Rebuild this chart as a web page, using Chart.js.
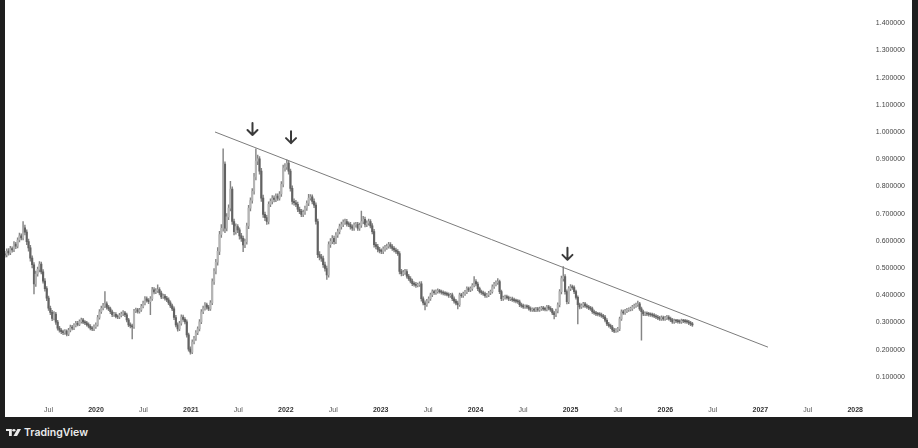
<!DOCTYPE html>
<html>
<head>
<meta charset="utf-8">
<script src="https://cdn.jsdelivr.net/npm/chart.js@4.4.1/dist/chart.umd.min.js"></script>
<style>
  html, body { margin:0; padding:0; width:918px; height:448px; overflow:hidden; background:#1e1e1e; }
  #panel { position:absolute; left:5px; top:0; width:907px; height:417px; background:#fff; }
  #panel canvas { display:block; }
  #brand { position:absolute; left:6px; top:425px; height:14px; display:flex; align-items:center; gap:3px;
           color:#ececec; font-family:"Inter","Noto Sans",sans-serif; font-size:10.5px; font-weight:600; }
</style>
</head>
<body>
<div id="panel"><canvas id="chart" width="907" height="417"></canvas></div>
<div id="brand">
  <svg width="15" height="7" viewBox="0 0 16 10" preserveAspectRatio="none"><path d="M0 0h6.2v10H3.2V3H0z" fill="#ececec"/><circle cx="8.4" cy="1.7" r="1.7" fill="#ececec"/><path d="M12.2 0h3.8l-4.2 10H7.9z" fill="#ececec"/></svg>
  <span>TradingView</span>
</div>
<script>
// --- weekly candles, first one mid-Jan 2019 ---
const startYear = 2019.04;
const weekStep = 7 / 365.25;
const firstOpen = 0.552;

const closes = [
  0.548,0.562,0.555,0.571,0.566,0.588,0.580,0.603,0.618,0.611,
  0.648,0.632,0.597,0.574,0.536,0.512,0.441,0.478,0.495,0.514,
  0.486,0.452,0.424,0.389,0.352,0.337,0.315,0.331,0.301,0.279,
  0.271,0.266,0.262,0.268,0.257,0.271,0.283,0.279,0.289,0.297,
  0.293,0.303,0.309,0.301,0.298,0.292,0.286,0.279,0.276,0.284,
  0.291,0.318,0.339,0.352,0.361,0.368,0.356,0.350,0.339,0.328,
  0.330,0.322,0.320,0.326,0.331,0.335,0.328,0.309,0.291,0.287,
  0.283,0.342,0.346,0.340,0.346,0.359,0.371,0.387,0.381,0.376,
  0.387,0.420,0.412,0.416,0.421,0.408,0.394,0.397,0.389,0.383,
  0.372,0.361,0.350,0.318,0.291,0.276,0.297,0.320,0.311,0.302,
  0.254,0.202,0.191,0.228,0.241,0.262,0.276,0.302,0.339,0.352,
  0.365,0.356,0.350,0.372,0.450,0.488,0.521,0.561,0.623,0.646,
  0.882,0.646,0.688,0.720,0.790,0.671,0.634,0.652,0.640,0.618,
  0.609,0.585,0.597,0.655,0.720,0.748,0.782,0.835,0.893,0.901,
  0.856,0.757,0.697,0.685,0.671,0.734,0.745,0.757,0.752,0.764,
  0.757,0.772,0.808,0.867,0.872,0.886,0.856,0.793,0.745,0.740,
  0.734,0.716,0.708,0.697,0.705,0.720,0.738,0.757,0.762,0.745,
  0.731,0.671,0.549,0.541,0.535,0.512,0.498,0.475,0.586,0.598,
  0.609,0.597,0.621,0.634,0.652,0.660,0.668,0.671,0.662,0.660,
  0.651,0.646,0.658,0.660,0.646,0.657,0.671,0.679,0.660,0.665,
  0.671,0.655,0.634,0.586,0.579,0.568,0.563,0.561,0.570,0.575,
  0.580,0.586,0.579,0.572,0.566,0.561,0.553,0.487,0.479,0.483,
  0.487,0.470,0.461,0.452,0.442,0.440,0.436,0.438,0.442,0.387,
  0.372,0.365,0.378,0.387,0.401,0.413,0.409,0.413,0.416,0.413,
  0.410,0.407,0.405,0.403,0.398,0.401,0.387,0.378,0.371,0.365,
  0.401,0.398,0.405,0.412,0.424,0.419,0.424,0.436,0.450,0.441,
  0.424,0.413,0.409,0.405,0.398,0.401,0.408,0.413,0.431,0.440,
  0.446,0.450,0.413,0.387,0.391,0.394,0.391,0.386,0.387,0.383,
  0.380,0.378,0.376,0.365,0.361,0.357,0.359,0.357,0.351,0.346,
  0.348,0.345,0.349,0.346,0.350,0.353,0.350,0.348,0.357,0.352,
  0.346,0.335,0.328,0.342,0.365,0.413,0.461,0.468,0.413,0.376,
  0.424,0.431,0.428,0.413,0.392,0.365,0.357,0.362,0.368,0.361,
  0.357,0.353,0.350,0.339,0.335,0.331,0.330,0.328,0.324,0.320,
  0.308,0.294,0.288,0.283,0.272,0.268,0.271,0.276,0.313,0.339,
  0.335,0.342,0.346,0.348,0.350,0.357,0.361,0.365,0.368,0.350,
  0.339,0.331,0.333,0.331,0.329,0.328,0.326,0.323,0.320,0.316,
  0.313,0.318,0.313,0.316,0.320,0.314,0.309,0.302,0.306,0.305,
  0.303,0.302,0.306,0.305,0.303,0.302,0.298,0.294,0.291
];

const highs = [
  0.561,0.570,0.571,0.580,0.578,0.597,0.594,0.611,0.628,0.626,
  0.671,0.658,0.640,0.606,0.583,0.545,0.520,0.489,0.503,0.524,
  0.522,0.494,0.461,0.432,0.397,0.360,0.344,0.340,0.337,0.308,
  0.286,0.277,0.272,0.274,0.273,0.278,0.290,0.289,0.296,0.304,
  0.304,0.309,0.316,0.315,0.307,0.304,0.298,0.292,0.285,0.291,
  0.298,0.326,0.347,0.360,0.370,0.413,0.376,0.363,0.356,0.345,
  0.337,0.336,0.328,0.333,0.338,0.343,0.341,0.334,0.315,0.298,
  0.294,0.348,0.353,0.352,0.352,0.366,0.378,0.395,0.394,0.388,
  0.395,0.429,0.428,0.424,0.438,0.428,0.415,0.404,0.403,0.396,
  0.390,0.379,0.367,0.357,0.326,0.298,0.304,0.328,0.327,0.318,
  0.309,0.261,0.210,0.236,0.249,0.270,0.284,0.310,0.347,0.360,
  0.373,0.371,0.363,0.380,0.460,0.498,0.532,0.575,0.635,0.660,
  0.938,0.890,0.700,0.732,0.819,0.798,0.680,0.662,0.660,0.648,
  0.627,0.617,0.606,0.665,0.730,0.758,0.792,0.848,0.938,0.915,
  0.910,0.866,0.768,0.706,0.694,0.743,0.754,0.766,0.765,0.773,
  0.773,0.781,0.818,0.878,0.884,0.898,0.894,0.864,0.802,0.754,
  0.749,0.742,0.724,0.716,0.713,0.728,0.747,0.771,0.770,0.769,
  0.754,0.740,0.680,0.560,0.550,0.544,0.522,0.507,0.596,0.608,
  0.619,0.617,0.630,0.643,0.661,0.669,0.677,0.680,0.679,0.670,
  0.668,0.659,0.666,0.668,0.668,0.665,0.709,0.690,0.687,0.673,
  0.680,0.678,0.663,0.642,0.594,0.587,0.576,0.570,0.578,0.583,
  0.588,0.594,0.593,0.586,0.579,0.573,0.568,0.560,0.495,0.491,
  0.495,0.494,0.477,0.468,0.459,0.449,0.447,0.445,0.449,0.450,
  0.394,0.379,0.385,0.394,0.408,0.420,0.419,0.420,0.423,0.422,
  0.419,0.416,0.413,0.411,0.409,0.407,0.408,0.394,0.385,0.378,
  0.408,0.407,0.411,0.418,0.431,0.430,0.431,0.443,0.468,0.457,
  0.448,0.430,0.419,0.415,0.411,0.407,0.414,0.419,0.438,0.447,
  0.453,0.461,0.456,0.419,0.397,0.400,0.400,0.397,0.393,0.393,
  0.389,0.386,0.384,0.382,0.371,0.367,0.365,0.365,0.363,0.357,
  0.354,0.354,0.355,0.355,0.356,0.359,0.359,0.356,0.363,0.363,
  0.358,0.352,0.341,0.349,0.372,0.421,0.470,0.505,0.476,0.420,
  0.432,0.439,0.437,0.434,0.419,0.398,0.371,0.368,0.374,0.374,
  0.367,0.363,0.359,0.356,0.345,0.341,0.337,0.336,0.334,0.330,
  0.326,0.314,0.300,0.294,0.289,0.278,0.277,0.282,0.320,0.346,
  0.345,0.348,0.352,0.354,0.356,0.363,0.367,0.371,0.378,0.374,
  0.356,0.345,0.339,0.339,0.337,0.335,0.334,0.332,0.329,0.326,
  0.322,0.324,0.323,0.322,0.326,0.325,0.320,0.315,0.312,0.311,
  0.311,0.309,0.312,0.311,0.311,0.309,0.308,0.304,0.300
];

const lows = [
  0.540,0.541,0.547,0.549,0.558,0.560,0.571,0.574,0.596,0.603,
  0.603,0.622,0.586,0.562,0.525,0.500,0.405,0.432,0.470,0.486,
  0.478,0.444,0.415,0.380,0.344,0.328,0.306,0.309,0.293,0.271,
  0.264,0.259,0.255,0.256,0.250,0.251,0.265,0.272,0.273,0.283,
  0.287,0.288,0.297,0.295,0.292,0.286,0.280,0.272,0.270,0.270,
  0.278,0.286,0.312,0.333,0.346,0.354,0.349,0.343,0.332,0.321,
  0.322,0.316,0.314,0.314,0.320,0.325,0.321,0.302,0.284,0.280,
  0.239,0.278,0.336,0.334,0.334,0.340,0.353,0.364,0.374,0.369,
  0.328,0.381,0.405,0.406,0.410,0.401,0.387,0.388,0.382,0.376,
  0.365,0.354,0.343,0.310,0.283,0.268,0.270,0.290,0.304,0.294,
  0.246,0.194,0.183,0.185,0.221,0.234,0.255,0.269,0.295,0.332,
  0.345,0.349,0.343,0.344,0.365,0.440,0.478,0.510,0.549,0.612,
  0.635,0.630,0.636,0.678,0.710,0.660,0.622,0.624,0.630,0.606,
  0.598,0.560,0.575,0.588,0.645,0.710,0.738,0.771,0.824,0.880,
  0.845,0.745,0.686,0.674,0.660,0.662,0.725,0.736,0.743,0.744,
  0.748,0.749,0.763,0.798,0.856,0.862,0.845,0.782,0.735,0.731,
  0.725,0.707,0.700,0.689,0.689,0.697,0.712,0.729,0.749,0.736,
  0.722,0.661,0.538,0.530,0.524,0.502,0.488,0.458,0.466,0.576,
  0.589,0.588,0.589,0.612,0.625,0.643,0.652,0.660,0.654,0.652,
  0.643,0.638,0.638,0.650,0.638,0.638,0.649,0.663,0.651,0.652,
  0.657,0.647,0.625,0.577,0.570,0.559,0.555,0.553,0.553,0.562,
  0.568,0.573,0.572,0.565,0.559,0.554,0.546,0.478,0.471,0.472,
  0.476,0.463,0.454,0.445,0.435,0.433,0.429,0.430,0.432,0.378,
  0.364,0.346,0.359,0.372,0.381,0.395,0.403,0.403,0.407,0.407,
  0.404,0.401,0.399,0.397,0.392,0.392,0.380,0.371,0.364,0.350,
  0.359,0.392,0.392,0.399,0.406,0.413,0.413,0.418,0.430,0.434,
  0.417,0.407,0.403,0.399,0.392,0.392,0.395,0.402,0.407,0.425,
  0.434,0.440,0.406,0.380,0.381,0.385,0.385,0.380,0.380,0.377,
  0.374,0.372,0.370,0.358,0.355,0.351,0.351,0.351,0.345,0.340,
  0.340,0.339,0.339,0.340,0.340,0.344,0.344,0.342,0.342,0.346,
  0.340,0.328,0.313,0.321,0.335,0.357,0.405,0.452,0.404,0.368,
  0.369,0.417,0.421,0.406,0.385,0.294,0.350,0.351,0.356,0.355,
  0.351,0.347,0.344,0.333,0.329,0.325,0.324,0.322,0.318,0.314,
  0.302,0.288,0.282,0.277,0.266,0.262,0.263,0.265,0.270,0.307,
  0.329,0.329,0.336,0.340,0.342,0.344,0.351,0.355,0.359,0.344,
  0.235,0.325,0.325,0.325,0.323,0.322,0.320,0.317,0.314,0.310,
  0.307,0.307,0.307,0.307,0.310,0.308,0.303,0.296,0.296,0.299,
  0.297,0.296,0.296,0.299,0.297,0.296,0.292,0.288,0.285
];

// trendline drawn across the three tops
const trendX = [2021.254, 2027.081];
const trendY = [1.000, 0.209];

// the three down arrows (x in years, y = price at the arrow tip)
const arrowX = [2021.649, 2022.055, 2024.968];
const arrowTip = [0.989, 0.959, 0.530];

const xTickPos = [2019.5,2020,2020.5,2021,2021.5,2022,2022.5,2023,2023.5,2024,2024.5,2025,2025.5,2026,2026.5,2027,2027.5,2028];
const xTickLabels = ['Jul','2020','Jul','2021','Jul','2022','Jul','2023','Jul','2024','Jul','2025','Jul','2026','Jul','2027','Jul','2028'];
const yTickVals = [0.1,0.2,0.3,0.4,0.5,0.6,0.7,0.8,0.9,1.0,1.1,1.2,1.3,1.4];

// --- build candle rows ---
const opens = [firstOpen, ...closes.slice(0, -1)];
const times = closes.map((c, i) => startYear + i * weekStep);
const wickData = times.map((t, i) => ({ x: t, y: [lows[i], highs[i]] }));
const bodyData = times.map((t, i) => ({ x: t, y: [opens[i], closes[i]] }));
const bodyColors = closes.map((c, i) => c >= opens[i] ? '#b4b4b4' : '#626262');

const arrowPlugin = {
  id: 'arrows',
  afterDatasetsDraw(chart) {
    const { ctx, scales: { x, y } } = chart;
    ctx.save();
    ctx.strokeStyle = '#3a3a3a';
    ctx.lineWidth = 2;
    ctx.lineCap = 'round';
    ctx.lineJoin = 'round';
    arrowX.forEach((ax, i) => {
      const px = x.getPixelForValue(ax);
      const py = y.getPixelForValue(arrowTip[i]);
      ctx.beginPath();
      ctx.moveTo(px, py - 12); ctx.lineTo(px, py);
      ctx.moveTo(px - 5, py - 5); ctx.lineTo(px, py); ctx.lineTo(px + 5, py - 5);
      ctx.stroke();
    });
    ctx.restore();
  }
};

const fontFam = '"Liberation Sans", Arial, sans-serif';

new Chart(document.getElementById('chart'), {
  type: 'bar',
  data: {
    datasets: [
      {
        type: 'line',
        data: trendX.map((t, i) => ({ x: t, y: trendY[i] })),
        borderColor: '#7c7c7c', borderWidth: 1, pointRadius: 0, pointHoverRadius: 0, fill: false
      },
      {
        data: bodyData, backgroundColor: bodyColors, borderWidth: 0,
        barThickness: 1.5, grouped: false, minBarLength: 1
      },
      {
        data: wickData, backgroundColor: '#858585', borderWidth: 0,
        barThickness: 0.8, grouped: false
      }
    ]
  },
  options: {
    responsive: false,
    animation: false,
    events: [],
    layout: { padding: { top: 0, left: 0, bottom: 0, right: 7 }, autoPadding: false },
    plugins: { legend: { display: false }, tooltip: { enabled: false } },
    scales: {
      x: {
        type: 'linear', offset: false,
        min: 2019.0411, max: 2028.0717,
        grid: { display: false, drawTicks: false },
        border: { display: false },
        afterFit: s => { s.height = 13; },
        afterBuildTicks: s => { s.ticks = xTickPos.map(v => ({ value: v })); },
        ticks: {
          autoSkip: false, maxRotation: 0, padding: 2,
          callback: (v, i) => xTickLabels[i],
          color: c => xTickLabels[c.index] === 'Jul' ? '#555' : '#333',
          font: c => ({ family: fontFam, size: 7, weight: xTickLabels[c.index] === 'Jul' ? 'normal' : 'bold' })
        }
      },
      y: {
        type: 'linear', position: 'right',
        min: 0, max: 1.4698,
        grid: { display: false, drawTicks: false },
        border: { display: false },
        afterFit: s => { s.width = 43; },
        afterBuildTicks: s => { s.ticks = yTickVals.map(v => ({ value: v })); },
        ticks: {
          padding: 0, crossAlign: 'far', color: '#444',
          font: { family: fontFam, size: 7 },
          callback: v => v.toFixed(6)
        }
      }
    }
  },
  plugins: [arrowPlugin]
});
</script>
</body>
</html>
